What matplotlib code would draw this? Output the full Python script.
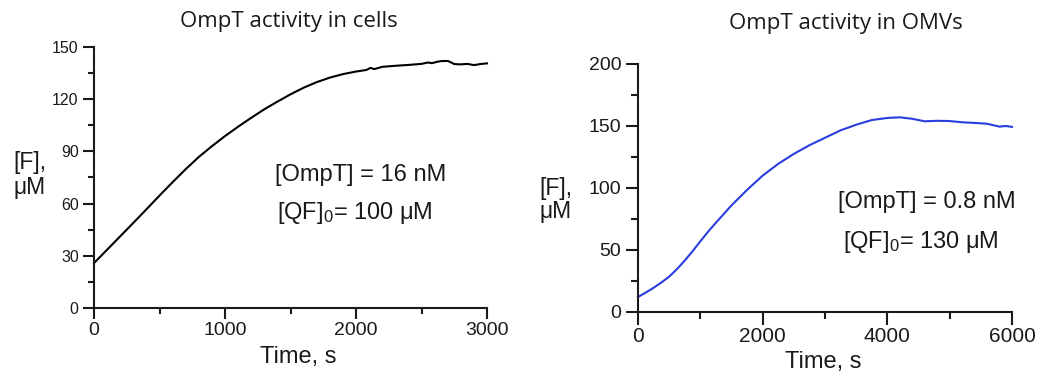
import matplotlib
matplotlib.use("Agg")
import matplotlib.pyplot as plt
from matplotlib.ticker import MultipleLocator

plt.rcParams['font.family'] = ['Liberation Sans', 'DejaVu Sans']
plt.rcParams['mathtext.fontset'] = 'custom'
plt.rcParams['mathtext.rm'] = 'Liberation Sans'
plt.rcParams['mathtext.it'] = 'Liberation Sans'

# ---- data: OmpT activity in cells ----
cells_time = [0, 100, 200, 300, 400, 500, 600, 700, 800, 900, 1000, 1100, 1200,
              1300, 1400, 1500, 1600, 1700, 1800, 1900, 2000, 2080, 2110, 2140,
              2200, 2300, 2400, 2500, 2550, 2580, 2620, 2650, 2700, 2730, 2750,
              2800, 2850, 2900, 2950, 3000]
cells_F = [25.8, 33.5, 41.2, 48.9, 56.7, 64.6, 72.3, 79.8, 86.8, 93.0, 98.8,
           104.2, 109.3, 114.2, 118.6, 122.8, 126.6, 129.8, 132.4, 134.4, 135.9,
           136.8, 138.0, 137.3, 138.6, 139.2, 139.7, 140.3, 141.1, 140.7, 141.5,
           141.9, 142.0, 141.0, 140.2, 140.0, 140.3, 139.6, 140.2, 140.6]

# ---- data: OmpT activity in OMVs ----
omv_time = [0, 125, 250, 375, 500, 625, 750, 875, 1000, 1125, 1250, 1500, 1750,
            2000, 2250, 2500, 2750, 3000, 3250, 3500, 3750, 4000, 4200, 4400,
            4600, 4800, 5000, 5200, 5400, 5600, 5800, 5900, 6000]
omv_F = [12.1, 15.7, 19.5, 23.8, 28.5, 34.6, 41.5, 49.0, 57.0, 64.8, 72.0,
         86.0, 98.5, 110.0, 119.5, 127.5, 134.5, 140.5, 146.5, 151.0, 154.8,
         156.5, 157.0, 155.8, 153.8, 154.2, 154.0, 153.0, 152.5, 151.8, 149.5,
         150.0, 149.3]

title_cells = "OmpT activity in cells"
title_omv = "OmpT activity in OMVs"
xlabel = "Time, s"
ylabel = "[F],\nμM"
ann_cells = ["[OmpT] = 16 nM", "[QF]$_0$= 100 μM"]
ann_omv = ["[OmpT] = 0.8 nM", "[QF]$_0$= 130 μM"]

W, H = 1042, 375
fig = plt.figure(figsize=(W / 100, H / 100), dpi=100)

def px_axes(x0, x1, ytop, ybot):
    return fig.add_axes([x0 / W, 1 - ybot / H, (x1 - x0) / W, (ybot - ytop) / H])

TXT = '#1a1a1a'

def style(ax, ytick_size, xtick_size, maj, mnr):
    for s in ['top', 'right']:
        ax.spines[s].set_visible(False)
    for s in ['left', 'bottom']:
        ax.spines[s].set_linewidth(1.5)
        ax.spines[s].set_color(TXT)
    ax.tick_params(which='major', direction='out', length=maj, width=1.5, color=TXT)
    ax.tick_params(which='minor', direction='out', length=mnr, width=1.5, color=TXT)
    ax.tick_params(axis='y', labelsize=ytick_size, labelcolor=TXT, pad=3)
    ax.tick_params(axis='x', labelsize=xtick_size, labelcolor=TXT, pad=2)

# Left panel
ax1 = px_axes(94, 487, 47, 308)
ax1.plot(cells_time, cells_F, color='black', lw=1.5)
ax1.set_xlim(0, 3000)
ax1.set_ylim(0, 150)
ax1.xaxis.set_major_locator(MultipleLocator(1000))
ax1.xaxis.set_minor_locator(MultipleLocator(500))
ax1.yaxis.set_major_locator(MultipleLocator(30))
ax1.yaxis.set_minor_locator(MultipleLocator(15))
style(ax1, 11.5, 14, 8, 4.5)
fig.text(289 / W, 1 - 22 / H, title_cells, ha='center', va='center',
         fontsize=16, family=['Open Sans', 'DejaVu Sans'], color=TXT)
fig.text(298 / W, 1 - 357 / H, xlabel, ha='center', va='center', fontsize=17, color=TXT)
fig.text(30 / W, 1 - 175 / H, ylabel, ha='center', va='center', fontsize=16.5,
         color=TXT, linespacing=1.1)
fig.text(275 / W, 1 - 175 / H, ann_cells[0], ha='left', va='center', fontsize=17, color=TXT)
fig.text(277 / W, 1 - 213 / H, ann_cells[1], ha='left', va='center', fontsize=17, color=TXT)

# Right panel
ax2 = px_axes(638, 1012, 64, 312)
ax2.plot(omv_time, omv_F, color='#2a3ee0', lw=1.5)
ax2.set_xlim(0, 6000)
ax2.set_ylim(0, 200)
ax2.xaxis.set_major_locator(MultipleLocator(2000))
ax2.xaxis.set_minor_locator(MultipleLocator(1000))
ax2.yaxis.set_major_locator(MultipleLocator(50))
ax2.yaxis.set_minor_locator(MultipleLocator(25))
style(ax2, 14, 15, 9, 5)
fig.text(846 / W, 1 - 23 / H, title_omv, ha='center', va='center',
         fontsize=16, family=['Open Sans', 'DejaVu Sans'], color=TXT)
fig.text(823 / W, 1 - 362 / H, xlabel, ha='center', va='center', fontsize=17, color=TXT)
fig.text(556 / W, 1 - 200 / H, ylabel, ha='center', va='center', fontsize=16.5,
         color=TXT, linespacing=0.95)
fig.text(838 / W, 1 - 202 / H, ann_omv[0], ha='left', va='center', fontsize=17, color=TXT)
fig.text(843 / W, 1 - 242 / H, ann_omv[1], ha='left', va='center', fontsize=17, color=TXT)

for ax in (ax1, ax2):
    for line in ax.lines:
        line.set_clip_on(False)

fig.savefig("out.png", dpi=100)
